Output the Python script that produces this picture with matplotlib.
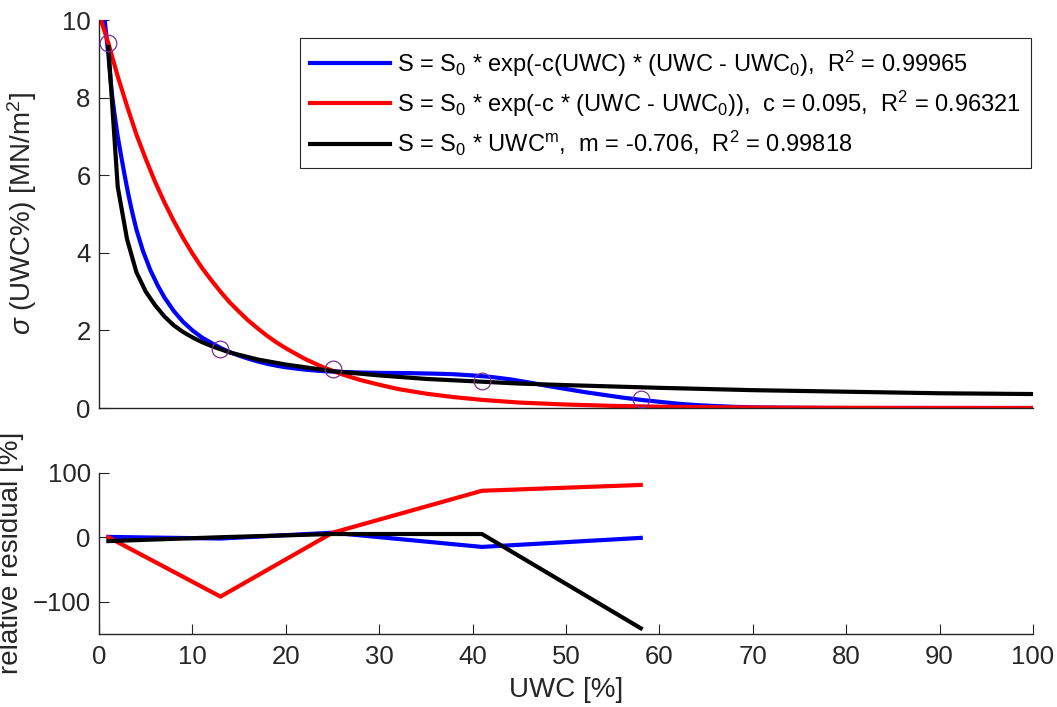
#!/usr/bin/env python3
"""Strength vs. UWC fits with relative residuals (MATLAB-style two panel plot)."""

import numpy as np
import matplotlib
matplotlib.use("Agg")
import matplotlib.pyplot as plt

# measured points
uwc_pts = [1, 13, 25, 41, 58]
sigma_pts = [9.4, 1.53, 1.0, 0.70, 0.22]

# fitted curves, values
uwc_blue = [0.6, 0.8, 1.0, 1.2, 1.4, 1.7, 2.0, 2.4, 2.7, 3.1, 3.5, 4.0, 4.7,
            5.5, 6.3, 7, 8, 9, 10, 11, 12, 13, 14, 15, 16, 17, 18, 19, 20, 22,
            24, 26, 28, 30, 33, 36, 38, 40, 42, 44, 46, 48, 50, 52, 54, 56, 58,
            60, 62, 64, 66, 68, 70, 73, 76, 80, 100]
sigma_blue = [10.0, 9.55, 9.1, 8.55, 8.05, 7.5, 7.0, 6.45, 6.05, 5.55, 5.1,
              4.6, 4.05, 3.55, 3.15, 2.85, 2.5, 2.22, 2.0, 1.82, 1.68, 1.55,
              1.44, 1.35, 1.27, 1.2, 1.14, 1.09, 1.05, 0.99, 0.95, 0.93, 0.915,
              0.905, 0.9, 0.885, 0.87, 0.84, 0.80, 0.74, 0.66, 0.57, 0.49,
              0.41, 0.34, 0.27, 0.21, 0.16, 0.11, 0.075, 0.05, 0.03, 0.018,
              0.008, 0.003, 0.0, 0.0]

uwc_red = [0.2, 1, 2, 3, 4, 5, 6, 7, 8, 9, 10, 11, 12, 13, 14, 15, 16, 17, 18,
           19, 20, 22, 24, 26, 28, 30, 32, 35, 38, 41, 45, 50, 55, 60, 65, 70,
           80, 90, 100]
sigma_red = [10.0, 9.4, 8.55, 7.78, 7.05, 6.42, 5.83, 5.3, 4.82, 4.38, 3.98,
             3.62, 3.3, 3.0, 2.72, 2.48, 2.25, 2.05, 1.86, 1.69, 1.54, 1.27,
             1.05, 0.87, 0.72, 0.6, 0.49, 0.37, 0.28, 0.21, 0.14, 0.09, 0.055,
             0.034, 0.021, 0.013, 0.005, 0.002, 0.0]

uwc_black = [1, 2, 3, 4, 5, 6, 7, 8, 9, 10, 11, 12, 14, 17, 20, 25, 30, 35, 40,
             45, 50, 60, 70, 80, 90, 100]
sigma_black = [9.3, 5.7, 4.35, 3.5, 3.0, 2.65, 2.36, 2.13, 1.96, 1.82, 1.7,
               1.6, 1.43, 1.25, 1.12, 0.95, 0.84, 0.75, 0.69, 0.63, 0.59, 0.52,
               0.46, 0.42, 0.38, 0.36]

# relative residuals [%] at the measured points
res_blue = [0.5, -2, 7, -15, -1]
res_red = [0, -92, 7, 72, 81]
res_black = [-6, 0, 5, 5, -141]

labels = [
    r"S = $\mathregular{S_0}$ * exp(-c(UWC) * (UWC - $\mathregular{UWC_0}$),  "
    r"$\mathregular{R^2}$ = 0.99965",
    r"S = $\mathregular{S_0}$ * exp(-c * (UWC - $\mathregular{UWC_0}$)),  "
    r"c = 0.095,  $\mathregular{R^2}$ = 0.96321",
    r"S = $\mathregular{S_0}$ * $\mathregular{UWC^m}$,  m = -0.706,  "
    r"$\mathregular{R^2}$ = 0.99818",
]

AX_COL = (0.15, 0.15, 0.15)
PURPLE = (0.494, 0.184, 0.556)

plt.rcParams.update({
    "font.family": ["Liberation Sans", "DejaVu Sans"],
    "font.size": 18,
    "axes.edgecolor": AX_COL,
    "axes.linewidth": 1.0,
    "xtick.color": AX_COL,
    "ytick.color": AX_COL,
    "xtick.direction": "in",
    "ytick.direction": "in",
    "xtick.major.size": 7,
    "ytick.major.size": 7,
    "mathtext.fontset": "custom",
    "mathtext.rm": "Liberation Sans",
    "mathtext.it": "Liberation Sans:italic",
})

fig = plt.figure(figsize=(10.57, 7.07), dpi=100)
ax1 = fig.add_axes([0.0937, 0.4229, 0.8836, 0.5488])
ax2 = fig.add_axes([0.0937, 0.1032, 0.8836, 0.2282])

for ax in (ax1, ax2):
    ax.spines["top"].set_visible(False)
    ax.spines["right"].set_visible(False)
    ax.tick_params(labelsize=18.5, colors=AX_COL, labelcolor=AX_COL, pad=6)
ax2.tick_params(axis="x", pad=8)

ax1.plot(uwc_blue, sigma_blue, color="blue", lw=3, label=labels[0])
ax1.plot(uwc_red, sigma_red, color="red", lw=3, label=labels[1])
ax1.plot(uwc_black, sigma_black, color="black", lw=3, label=labels[2])
ax1.plot(uwc_pts, sigma_pts, "o", mfc="none", mec=PURPLE, ms=12, mew=0.9, zorder=5)

ax1.set_xlim(0, 100)
ax1.set_ylim(0, 10)
ax1.set_yticks([0, 2, 4, 6, 8, 10])
ax1.tick_params(axis="x", bottom=False, labelbottom=False)
ax1.set_ylabel(r"$\sigma$ (UWC%) [MN/$\mathregular{m^2}$]", color=AX_COL, fontsize=20)
ax1.yaxis.set_label_coords(-0.064, 0.5)

leg = ax1.legend(loc="upper right", bbox_to_anchor=(0.998, 0.954), borderaxespad=0,
                 fontsize=17, handlelength=3.35, handletextpad=0.3, borderpad=0.45,
                 labelspacing=0.42, fancybox=False, framealpha=1)
leg.get_frame().set_edgecolor(AX_COL)
leg.get_frame().set_linewidth(0.8)

ax2.plot(uwc_pts, res_blue, color="blue", lw=3)
ax2.plot(uwc_pts, res_red, color="red", lw=3)
ax2.plot(uwc_pts, res_black, color="black", lw=3)
ax2.set_xlim(0, 100)
ax2.set_ylim(-150, 100)
ax2.set_xticks(np.arange(0, 101, 10))
ax2.set_yticks([-100, 0, 100])
ax2.set_xlabel("UWC [%]", color=AX_COL, fontsize=20, labelpad=6)
ax2.set_ylabel("relative residual [%]", color=AX_COL, fontsize=20)
ax2.yaxis.set_label_coords(-0.08, 0.5)

fig.savefig("out.png", dpi=100)
